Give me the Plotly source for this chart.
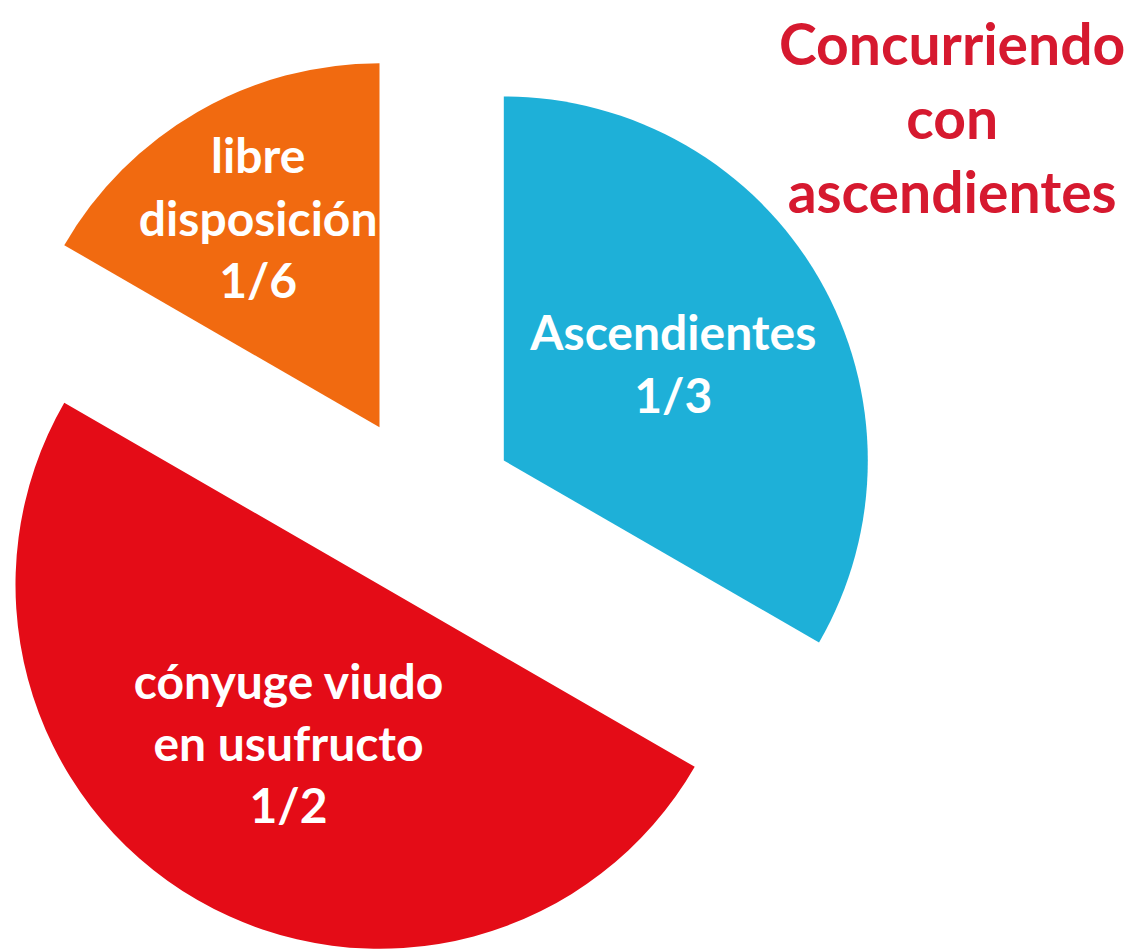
import numpy as np
import plotly.graph_objects as go

# --- chart data ---
labels = ["Ascendientes", "cónyuge viudo en usufructo", "libre disposición"]
slice_text = ["Ascendientes<br>1/3", "cónyuge viudo<br>en usufructo<br>1/2", "libre<br>disposición<br>1/6"]
values = [1 / 3, 1 / 2, 1 / 6]
colors = ["#1eb0d8", "#e40c17", "#f16a10"]
title_lines = ["Concurriendo", "con", "ascendientes"]

# --- layout settings (pixels, figure coords; page body adds 8px margin) ---
W, H = 1139, 943
CX, CY = 417, 498      # centre of the un-exploded pie
R = 364                # pie radius
PULL = 0.25            # explode distance as fraction of radius
FONT = "Lato"
LABEL_SIZE = 48

fig = go.Figure()

# every slice is its own pie trace so the exploded pie can use the full page
start = 0.0
for i, v in enumerate(values):
    mid = np.radians((start + v / 2) * 360)
    start += v
    sx = CX + PULL * R * np.sin(mid)
    sy = CY - PULL * R * np.cos(mid)
    dom_x = [max(0, (sx - R) / W), min(1, (sx + R) / W)]
    dom_y = [max(0, 1 - (sy + R) / H), min(1, 1 - (sy - R) / H)]

    slice_colors = [c if j == i else "rgba(0,0,0,0)" for j, c in enumerate(colors)]
    texts = [t if j == i else "" for j, t in enumerate(slice_text)]

    fig.add_trace(go.Pie(
        labels=labels, values=values, sort=False, direction="clockwise", rotation=0,
        marker=dict(colors=slice_colors, line=dict(width=0)),
        text=texts, textinfo="text", textposition="inside",
        insidetextorientation="horizontal",
        textfont=dict(family=FONT, size=LABEL_SIZE, color="white", weight="bold"),
        hoverinfo="label+percent",
        domain=dict(x=dom_x, y=dom_y),
        showlegend=False,
    ))

fig.add_annotation(
    text="<br>".join(title_lines), x=944 / W, y=1.0, xref="paper", yref="paper",
    xanchor="center", yanchor="top", borderpad=0, showarrow=False,
    font=dict(family=FONT, size=57, color="#d6192f", weight="bold"),
)

fig.update_layout(
    width=W, height=H, margin=dict(l=0, r=0, t=0, b=0),
    paper_bgcolor="white", plot_bgcolor="white",
    uniformtext=dict(minsize=LABEL_SIZE, mode="show"),
)

fig.write_html("out.html")
